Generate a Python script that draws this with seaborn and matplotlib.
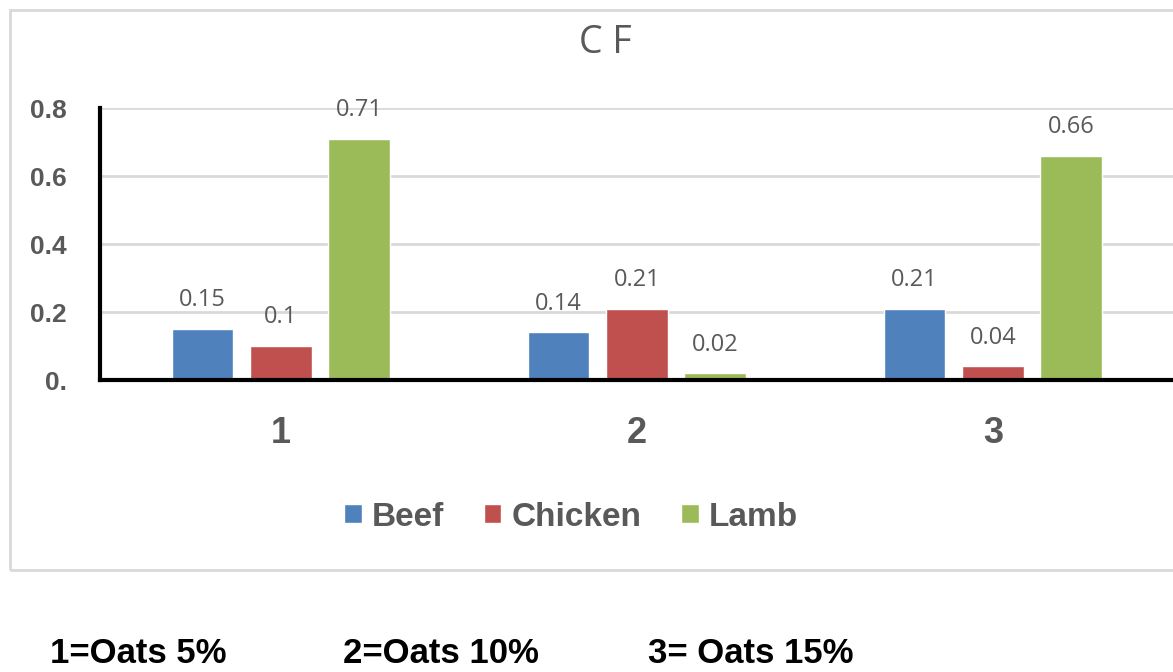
import matplotlib
matplotlib.use("Agg")
import matplotlib.pyplot as plt
from matplotlib.patches import Rectangle
import seaborn as sns
import pandas as pd

# data
categories = ["1", "2", "3"]
meats = ["Beef", "Chicken", "Lamb"]
beef = [0.15, 0.14, 0.21]
chicken = [0.10, 0.21, 0.04]
lamb = [0.71, 0.02, 0.66]
colors = ["#4F81BD", "#C0504D", "#9BBB59"]
y_ticks = [0, 0.2, 0.4, 0.6, 0.8]
y_tick_labels = ["0.", "0.2", "0.4", "0.6", "0.8"]
notes = ["1=Oats 5%", "2=Oats 10%", "3= Oats 15%"]
notes_x = [50, 343, 648]

df = pd.DataFrame({
    "group": categories * 3,
    "meat": [m for m in meats for _ in categories],
    "value": beef + chicken + lamb,
})

sns.set_style("white")
plt.rcParams['font.family'] = ['Liberation Sans', 'DejaVu Sans']

W, H = 1173, 672
fig = plt.figure(figsize=(W / 100, H / 100), dpi=100)
ax = fig.add_axes([100 / W, 1 - 380 / H, 1073 / W, 272 / H])

sns.barplot(data=df, x="group", y="value", hue="meat", palette=colors,
            width=0.66, gap=0.21, saturation=1, errorbar=None, ax=ax)

# valori sopra le barre
for cont, vals in zip(ax.containers, [beef, chicken, lamb]):
    ax.bar_label(cont, labels=[f"{v:g}" for v in vals], padding=12,
                 fontsize=17, color="#595959", family="Open Sans")

ax.set_ylim(0, 0.8)
ax.set_xlim(-0.508, 2.506)
ax.set_yticks(y_ticks)
ax.set_yticklabels(y_tick_labels)
ax.set_xlabel("")
ax.set_ylabel("")

ax.yaxis.grid(True, color="#D9D9D9", lw=2)
ax.set_axisbelow(True)
for s in ["top", "right"]:
    ax.spines[s].set_visible(False)
for s in ["left", "bottom"]:
    ax.spines[s].set_color("black")
    ax.spines[s].set_linewidth(3)

ax.tick_params(axis="y", length=0, pad=24, labelsize=19, labelcolor="#595959")
ax.tick_params(axis="x", length=0, pad=26, labelsize=26, labelcolor="#595959")
for t in ax.get_xticklabels() + ax.get_yticklabels():
    t.set_fontweight("bold")

ax.legend(loc="center", bbox_to_anchor=(571 / W, 1 - 517 / H),
          bbox_transform=fig.transFigure, ncol=3, frameon=False,
          prop={"size": 24, "weight": "bold"}, labelcolor="#595959",
          handlelength=0.52, handleheight=0.52, handletextpad=0.3,
          columnspacing=1.2)

fig.text(605 / W, 1 - 43 / H, "C F", ha="center", va="center",
         fontsize=27, color="#595959", family="Open Sans")

# ramka wykresu
fig.patches.append(Rectangle((10 / W, 1 - 570 / H), 1.2, 560 / H,
                             transform=fig.transFigure, fill=False,
                             ec="#D9D9D9", lw=2))

for txt, x in zip(notes, notes_x):
    fig.text(x / W, 1 - 663 / H, txt, ha="left", va="baseline",
             fontsize=25, fontweight="bold", color="black")

fig.savefig("out.png", dpi=100)
